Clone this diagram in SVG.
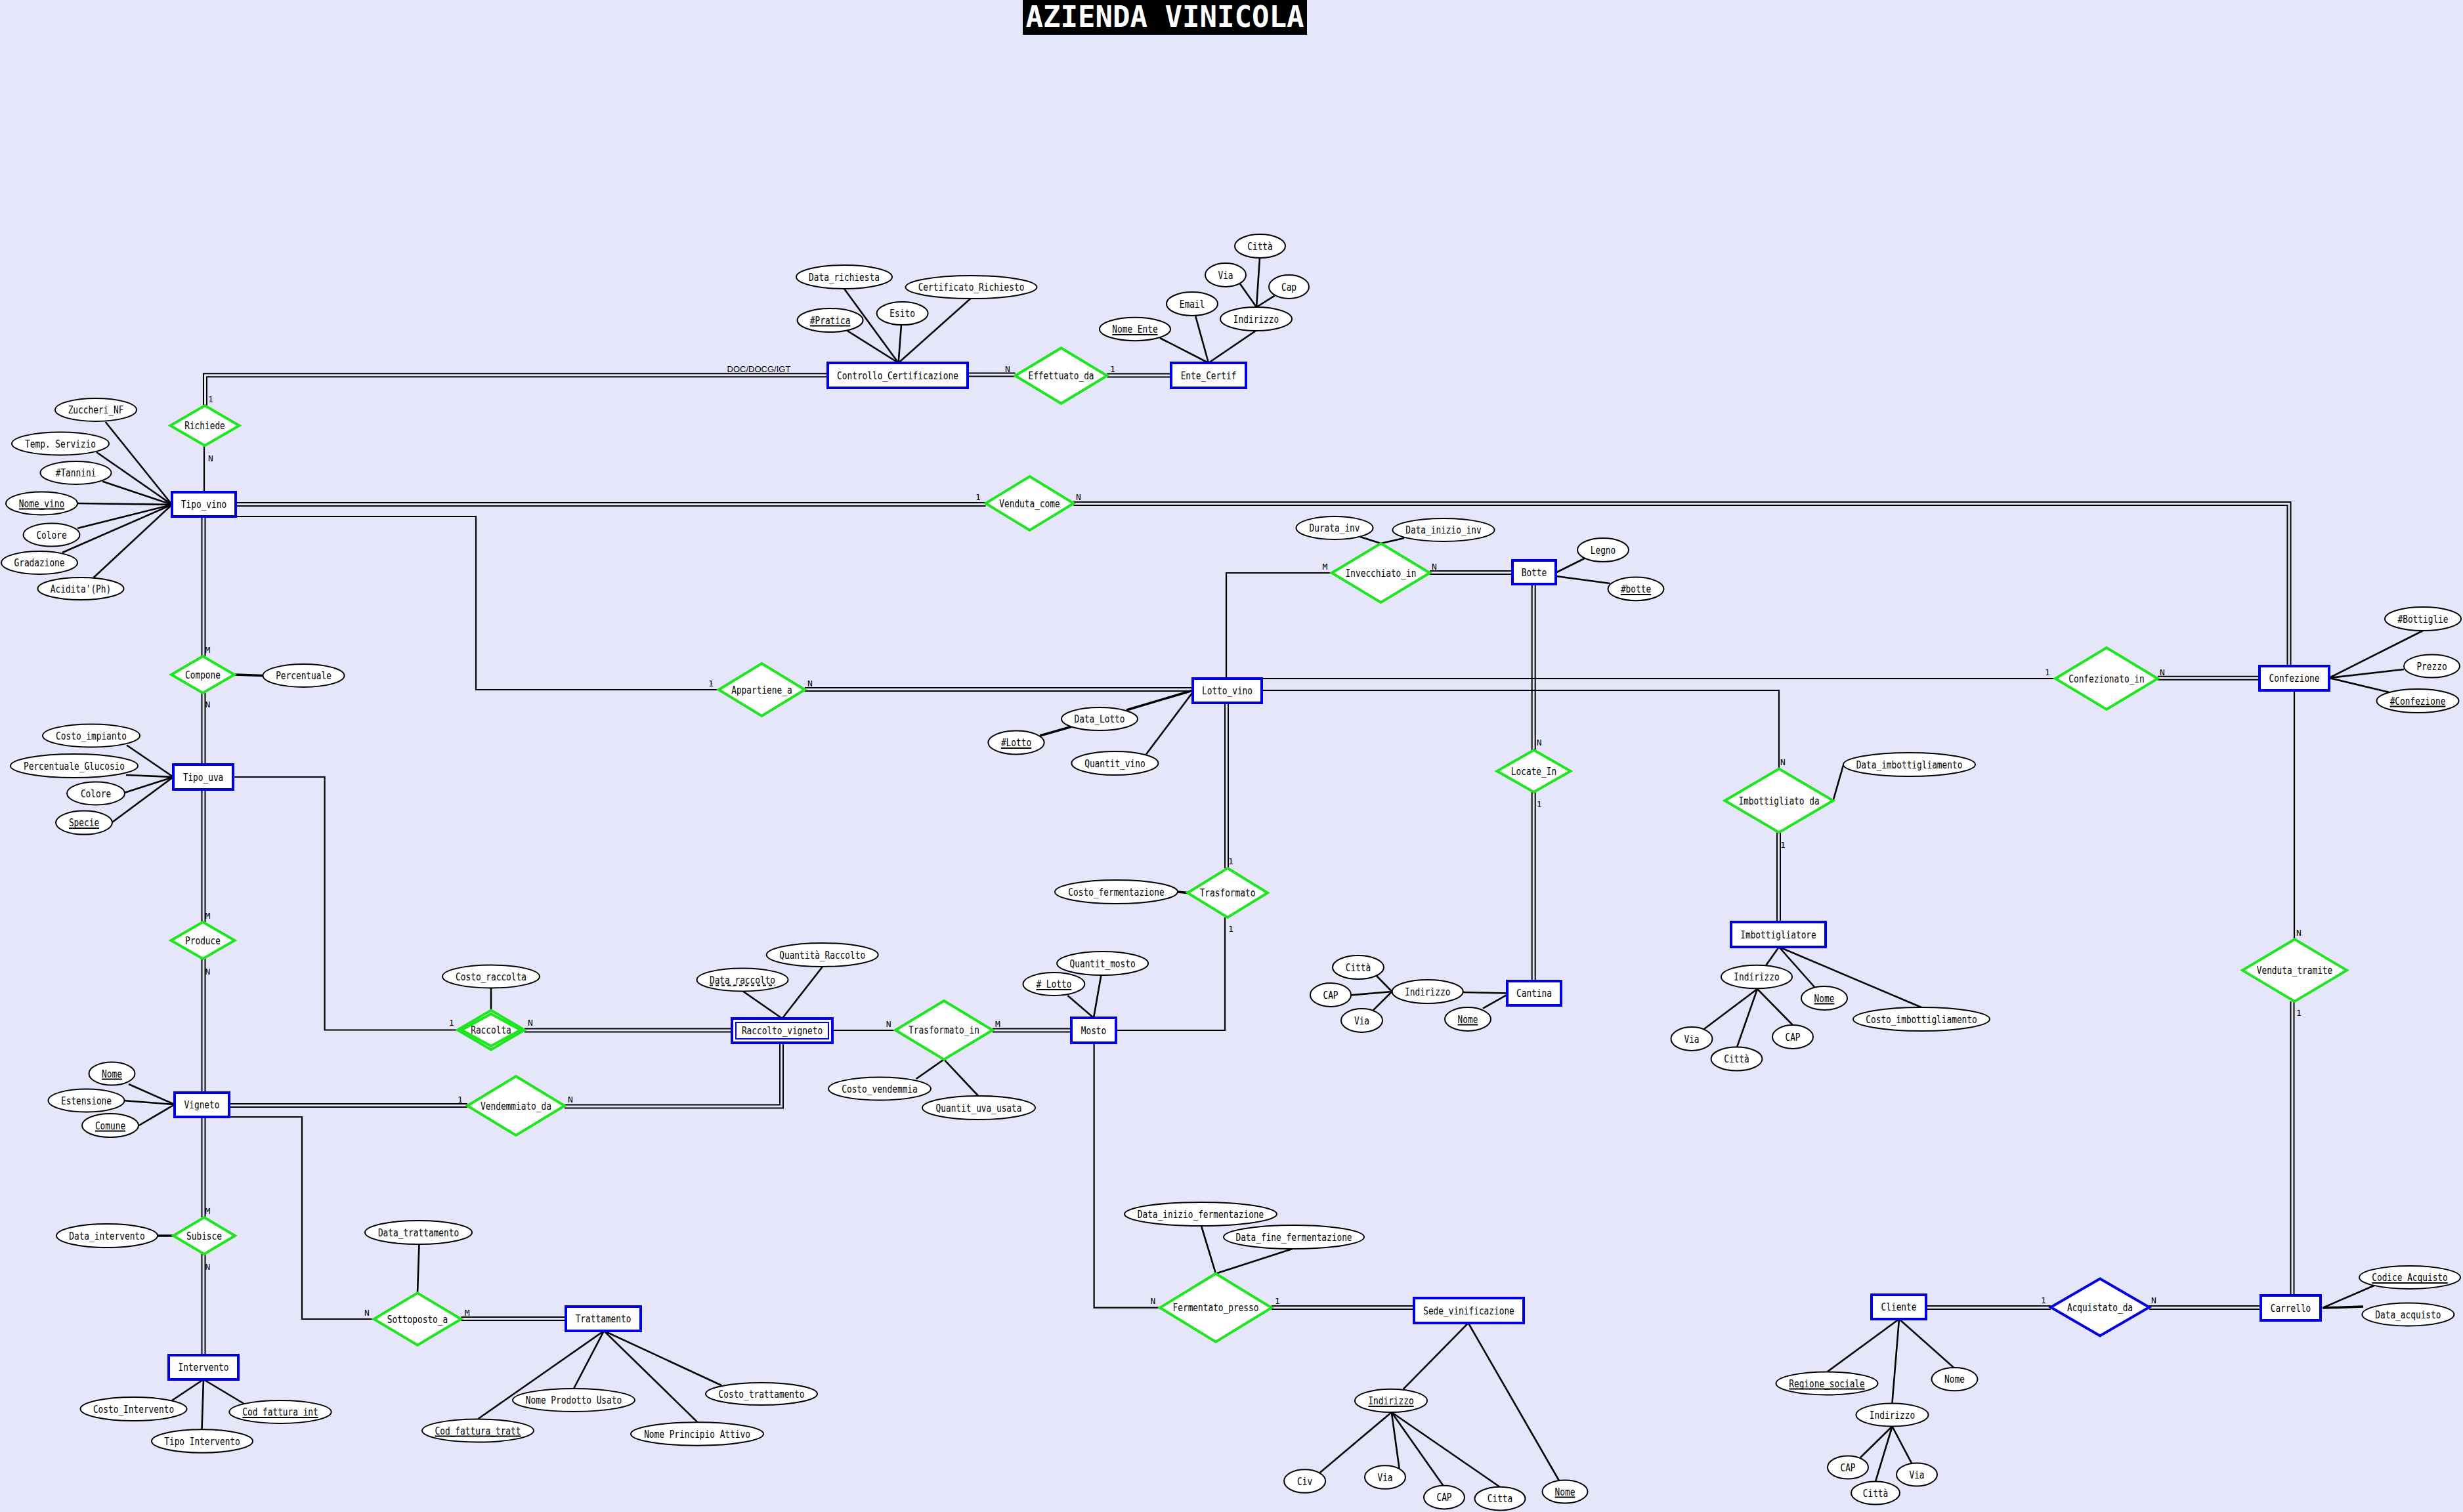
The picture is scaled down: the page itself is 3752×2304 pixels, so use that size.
<svg xmlns="http://www.w3.org/2000/svg" width="3752" height="2304" viewBox="0 0 3752 2304">
<style>
.bg{fill:#e6e6fa}
.ent{fill:#fff;stroke:#0000e0;stroke-width:4}
.ent2{fill:none;stroke:#0000e0;stroke-width:2}
.rel{fill:#fff;stroke:#1ee61e;stroke-width:4;stroke-linejoin:miter}
.relb{fill:#fff;stroke:#0000e0;stroke-width:4}
.att{fill:#fff;stroke:#000;stroke-width:2}
.ln{fill:none;stroke:#000;stroke-width:2.2}
.al{fill:none;stroke:#000;stroke-width:2.6}
.d{fill:none;stroke:#000;stroke-width:7}
.di{fill:none;stroke:#e6e6fa;stroke-width:3}
.u{stroke:#000;stroke-width:2}
.ud{stroke:#000;stroke-width:2;stroke-dasharray:5 4}
.t{font-family:"DejaVu Sans Mono","Liberation Mono",monospace;font-size:15.5px;text-anchor:middle;fill:#000}
.c{font-family:"DejaVu Sans Mono","Liberation Mono",monospace;font-size:13px;text-anchor:middle;fill:#000}
.s{font-family:"Liberation Sans",Arial,sans-serif;font-size:13px;text-anchor:middle;fill:#000}
.title{font-family:"DejaVu Sans Mono","Liberation Mono",monospace;font-weight:bold;font-size:44px;text-anchor:middle;fill:#fff}
</style>
<rect class="bg" x="0" y="0" width="3752" height="2304"/>
<g id="title"><rect x="1558" y="0" width="433" height="53" fill="#000"/><text class="title" x="1774.5" y="41">AZIENDA VINICOLA</text></g>

<g id="connectors">
<!-- double connectors -->
<path class="d" d="M312.5,618 V571.7 H1261"/><path class="di" d="M312.5,618 V571.7 H1261"/>
<path class="d" d="M359,768.5 H1501.5"/><path class="di" d="M359,768.5 H1501.5"/>
<path class="d" d="M1635.5,767.5 H3487 V1015"/><path class="di" d="M1635.5,767.5 H3487 V1015"/>
<path class="d" d="M310,787 V1000"/><path class="di" d="M310,787 V1000"/>
<path class="d" d="M310,1056 V1165"/><path class="di" d="M310,1056 V1165"/>
<path class="d" d="M310,1203 V1405"/><path class="di" d="M310,1203 V1405"/>
<path class="d" d="M310,1461 V1665"/><path class="di" d="M310,1461 V1665"/>
<path class="d" d="M310,1702 V1855"/><path class="di" d="M310,1702 V1855"/>
<path class="d" d="M310,1911 V2065"/><path class="di" d="M310,1911 V2065"/>
<path class="d" d="M349,1684.5 H712"/><path class="di" d="M349,1684.5 H712"/>
<path class="d" d="M1190.5,1589 V1686 H860"/><path class="di" d="M1190.5,1589 V1686 H860"/>
<path class="d" d="M799,1570 H1115"/><path class="di" d="M799,1570 H1115"/>
<path class="d" d="M1512,1570 H1632"/><path class="di" d="M1512,1570 H1632"/>
<path class="d" d="M702.5,2009.5 H862"/><path class="di" d="M702.5,2009.5 H862"/>
<path class="d" d="M1474,571 H1546.5"/><path class="di" d="M1474,571 H1546.5"/>
<path class="d" d="M1686.5,572 H1784"/><path class="di" d="M1686.5,572 H1784"/>
<path class="d" d="M2178,872.5 H2304"/><path class="di" d="M2178,872.5 H2304"/>
<path class="d" d="M2336.2,890 V1143"/><path class="di" d="M2336.2,890 V1143"/>
<path class="d" d="M2336.2,1207 V1495"/><path class="di" d="M2336.2,1207 V1495"/>
<path class="d" d="M1226,1050.5 H1817"/><path class="di" d="M1226,1050.5 H1817"/>
<path class="d" d="M1868.5,1071 V1323"/><path class="di" d="M1868.5,1071 V1323"/>
<path class="d" d="M2709.5,1268.4 V1405"/><path class="di" d="M2709.5,1268.4 V1405"/>
<path class="d" d="M3287,1033.3 H3442"/><path class="di" d="M3287,1033.3 H3442"/>
<path class="d" d="M3492,1526 V1974"/><path class="di" d="M3492,1526 V1974"/>
<path class="d" d="M1937,1992.4 H2154"/><path class="di" d="M1937,1992.4 H2154"/>
<path class="d" d="M2934,1992.5 H3124"/><path class="di" d="M2934,1992.5 H3124"/>
<path class="d" d="M3274,1992.5 H3444"/><path class="di" d="M3274,1992.5 H3444"/>
<!-- single connectors -->
<path class="ln" d="M311,679 V750"/>
<path class="ln" d="M359,787 H725 V1051 H1094.8"/>
<path class="ln" d="M355,1184 H494.6 V1569.5 H697"/>
<path class="ln" d="M349,1702 H460 V2010 H569.5"/>
<path class="ln" d="M1868,1034 V873 H2029"/>
<path class="ln" d="M1922,1034 H3131"/>
<path class="ln" d="M1922,1052 H2710 V1171.6"/>
<path class="ln" d="M1268,1570 H1364"/>
<path class="ln" d="M1866,1398 V1570 H1700"/>
<path class="ln" d="M1666.6,1589 V1992.7 H1767"/>
<path class="ln" d="M3495,1052 V1431.3"/>
<!-- attribute lines -->
<g class="al">
<line x1="160.7" y1="643" x2="262" y2="769"/>
<line x1="147" y1="689" x2="262" y2="769"/>
<line x1="156" y1="733.5" x2="262" y2="769"/>
<line x1="118" y1="767" x2="262" y2="769"/>
<line x1="118" y1="805" x2="262" y2="769"/>
<line x1="95" y1="842" x2="262" y2="769"/>
<line x1="142.7" y1="880" x2="262" y2="769"/>
<line x1="1286" y1="440" x2="1368.6" y2="553"/>
<line x1="1290.7" y1="504" x2="1368.6" y2="553"/>
<line x1="1373" y1="495" x2="1368.6" y2="553"/>
<line x1="1478.4" y1="455" x2="1368.6" y2="553"/>
<line x1="1767" y1="515" x2="1841" y2="553"/>
<line x1="1821" y1="481" x2="1841" y2="553"/>
<line x1="1913" y1="504" x2="1841" y2="553"/>
<line x1="1889" y1="432.6" x2="1914" y2="468"/>
<line x1="1919" y1="393" x2="1914" y2="468"/>
<line x1="1941.7" y1="450.7" x2="1914" y2="468"/>
<line x1="2413.6" y1="851" x2="2370.4" y2="872.5"/>
<line x1="2452.5" y1="889" x2="2370.4" y2="878"/>
<line x1="2072" y1="818" x2="2103.5" y2="828"/>
<line x1="2139" y1="820" x2="2103.5" y2="828"/>
<line x1="1716" y1="1082" x2="1817" y2="1052" stroke-width="3.5"/>
<line x1="1584.4" y1="1121" x2="1632.4" y2="1107.3" stroke-width="3.5"/>
<line x1="1746" y1="1149.4" x2="1817" y2="1054.7"/>
<line x1="3691" y1="961" x2="3548" y2="1033"/>
<line x1="3662" y1="1020" x2="3548" y2="1033"/>
<line x1="3639" y1="1054.7" x2="3548" y2="1033"/>
<line x1="357" y1="1028" x2="400.5" y2="1029.5" stroke-width="3.5"/>
<line x1="193" y1="1135.5" x2="264" y2="1184"/>
<line x1="192" y1="1181" x2="264" y2="1184"/>
<line x1="189.4" y1="1208" x2="264" y2="1184"/>
<line x1="171.5" y1="1252.5" x2="264" y2="1184"/>
<line x1="748" y1="1505.5" x2="748" y2="1540"/>
<line x1="1131.8" y1="1510.5" x2="1191.5" y2="1552"/>
<line x1="1253" y1="1473" x2="1191.5" y2="1552"/>
<line x1="1794" y1="1359" x2="1809" y2="1360.5" stroke-width="3.5"/>
<line x1="1626.4" y1="1517" x2="1666" y2="1551"/>
<line x1="1677.4" y1="1486" x2="1666" y2="1551"/>
<line x1="1438" y1="1614.4" x2="1395.6" y2="1644"/>
<line x1="1438" y1="1614.4" x2="1490.3" y2="1670"/>
<line x1="2229" y1="1512" x2="2296" y2="1513.5"/>
<line x1="2259" y1="1536.6" x2="2296" y2="1515.6"/>
<line x1="2097" y1="1487" x2="2120.4" y2="1511"/>
<line x1="2058" y1="1516.4" x2="2120.4" y2="1511"/>
<line x1="2091.6" y1="1539.6" x2="2120.4" y2="1511"/>
<line x1="2792.5" y1="1220" x2="2808" y2="1166"/>
<line x1="2690.5" y1="1470.6" x2="2710" y2="1443"/>
<line x1="2764" y1="1504" x2="2710" y2="1443"/>
<line x1="2927" y1="1535" x2="2710" y2="1443"/>
<line x1="2596" y1="1568" x2="2677" y2="1507"/>
<line x1="2646" y1="1595.6" x2="2677" y2="1507"/>
<line x1="2731" y1="1562" x2="2677" y2="1507"/>
<line x1="196" y1="1652" x2="266" y2="1683"/>
<line x1="187.5" y1="1677" x2="266" y2="1683"/>
<line x1="211.6" y1="1715" x2="266" y2="1683"/>
<line x1="240" y1="1883" x2="264" y2="1883" stroke-width="3.5"/>
<line x1="262" y1="2134" x2="310" y2="2102"/>
<line x1="307.5" y1="2178" x2="310" y2="2102"/>
<line x1="371.7" y1="2139" x2="310" y2="2102"/>
<line x1="638.5" y1="1896" x2="636" y2="1970.4"/>
<line x1="728.4" y1="2162" x2="920" y2="2028"/>
<line x1="874" y1="2116" x2="920" y2="2028"/>
<line x1="1063" y1="2167.6" x2="920" y2="2028"/>
<line x1="1099" y1="2111" x2="920" y2="2028"/>
<line x1="1830" y1="1868" x2="1852" y2="1940.7"/>
<line x1="1968.7" y1="1903" x2="1852" y2="1940.7"/>
<line x1="2137.8" y1="2116.7" x2="2236.7" y2="2016"/>
<line x1="2374.6" y1="2255.5" x2="2236.7" y2="2016"/>
<line x1="2010.7" y1="2244" x2="2119.8" y2="2152"/>
<line x1="2131.8" y1="2239" x2="2119.8" y2="2152"/>
<line x1="2199" y1="2264.5" x2="2119.8" y2="2152"/>
<line x1="2284.7" y1="2265.8" x2="2119.8" y2="2152"/>
<line x1="2784" y1="2090" x2="2893" y2="2010"/>
<line x1="2976.3" y1="2084" x2="2893" y2="2010"/>
<line x1="2882.4" y1="2138.5" x2="2893" y2="2010"/>
<line x1="2834" y1="2221" x2="2882.5" y2="2173.5"/>
<line x1="2857" y1="2257.6" x2="2882.5" y2="2173.5"/>
<line x1="2912" y1="2229.6" x2="2882.5" y2="2173.5"/>
<line x1="3616.5" y1="1959" x2="3538" y2="1993"/>
<line x1="3600" y1="1991" x2="3538" y2="1993" stroke-width="3.5"/>
</g>
<!-- cardinalities -->
<text class="c" x="321" y="613">1</text><text class="c" x="321" y="703">N</text>
<text class="c" x="1535" y="567">N</text><text class="c" x="1695" y="567">1</text>
<text class="c" x="1490" y="762">1</text><text class="c" x="1643" y="762">N</text>
<text class="c" x="316.5" y="995">M</text><text class="c" x="316.5" y="1078">N</text>
<text class="c" x="1083" y="1046">1</text><text class="c" x="1234" y="1046">N</text>
<text class="c" x="2018.5" y="868">M</text><text class="c" x="2185" y="868">N</text>
<text class="c" x="3119" y="1029">1</text><text class="c" x="3294" y="1029">N</text>
<text class="c" x="2344.6" y="1136">N</text><text class="c" x="2344.6" y="1230">1</text>
<text class="c" x="2716" y="1166">N</text><text class="c" x="2716" y="1292">1</text>
<text class="c" x="1875" y="1317">1</text><text class="c" x="1875" y="1420">1</text>
<text class="c" x="316.5" y="1400">M</text><text class="c" x="316.5" y="1485">N</text>
<text class="c" x="687.6" y="1563">1</text><text class="c" x="808" y="1563">N</text>
<text class="c" x="1353.7" y="1565">N</text><text class="c" x="1520" y="1565">M</text>
<text class="c" x="3502" y="1426">N</text><text class="c" x="3502" y="1548">1</text>
<text class="c" x="701" y="1680">1</text><text class="c" x="869" y="1680">N</text>
<text class="c" x="316.5" y="1850">M</text><text class="c" x="316.5" y="1935">N</text>
<text class="c" x="559" y="2005">N</text><text class="c" x="711.6" y="2005">M</text>
<text class="c" x="1756.5" y="1987">N</text><text class="c" x="1946" y="1987">1</text>
<text class="c" x="3113" y="1986">1</text><text class="c" x="3281" y="1986">N</text>
<text class="s" x="1156" y="567">DOC/DOCG/IGT</text>
</g>

<!-- entities -->
<g id="e-tipo-vino"><rect class="ent" x="262" y="750" width="97" height="37"/><text class="t" x="310.5" y="774" textLength="69.3" lengthAdjust="spacingAndGlyphs">Tipo_vino</text></g>
<g id="e-controllo"><rect class="ent" x="1261" y="553" width="213" height="38"/><text class="t" x="1367.5" y="577.5" textLength="184.8" lengthAdjust="spacingAndGlyphs">Controllo_Certificazione</text></g>
<g id="e-ente"><rect class="ent" x="1784" y="553" width="114" height="38"/><text class="t" x="1841" y="577.5" textLength="84.7" lengthAdjust="spacingAndGlyphs">Ente_Certif</text></g>
<g id="e-botte"><rect class="ent" x="2304" y="854" width="66" height="36"/><text class="t" x="2337" y="877.5" textLength="38.5" lengthAdjust="spacingAndGlyphs">Botte</text></g>
<g id="e-lotto"><rect class="ent" x="1817" y="1034" width="105" height="37"/><text class="t" x="1869.5" y="1058" textLength="77" lengthAdjust="spacingAndGlyphs">Lotto_vino</text></g>
<g id="e-confezione"><rect class="ent" x="3442" y="1015" width="106" height="37"/><text class="t" x="3495" y="1039" textLength="77" lengthAdjust="spacingAndGlyphs">Confezione</text></g>
<g id="e-tipo-uva"><rect class="ent" x="264" y="1165" width="91" height="38"/><text class="t" x="309.5" y="1189.5" textLength="61.6" lengthAdjust="spacingAndGlyphs">Tipo_uva</text></g>
<g id="e-raccolto"><rect class="ent" x="1115" y="1552" width="153" height="37"/><rect class="ent2" x="1121" y="1558" width="141" height="25"/><text class="t" x="1191.5" y="1576" textLength="123.2" lengthAdjust="spacingAndGlyphs">Raccolto_vigneto</text></g>
<g id="e-mosto"><rect class="ent" x="1632" y="1551" width="68" height="38"/><text class="t" x="1666" y="1575.5" textLength="38.5" lengthAdjust="spacingAndGlyphs">Mosto</text></g>
<g id="e-cantina"><rect class="ent" x="2296" y="1495" width="82" height="37"/><text class="t" x="2337" y="1519" textLength="53.9" lengthAdjust="spacingAndGlyphs">Cantina</text></g>
<g id="e-imbottigliatore"><rect class="ent" x="2637" y="1405" width="144" height="38"/><text class="t" x="2709" y="1429.5" textLength="115.5" lengthAdjust="spacingAndGlyphs">Imbottigliatore</text></g>
<g id="e-vigneto"><rect class="ent" x="266" y="1665" width="83" height="37"/><text class="t" x="307.5" y="1689" textLength="53.9" lengthAdjust="spacingAndGlyphs">Vigneto</text></g>
<g id="e-intervento"><rect class="ent" x="257" y="2065" width="106" height="37"/><text class="t" x="310" y="2089" textLength="77" lengthAdjust="spacingAndGlyphs">Intervento</text></g>
<g id="e-trattamento"><rect class="ent" x="862" y="1991" width="114" height="37"/><text class="t" x="919" y="2015" textLength="84.7" lengthAdjust="spacingAndGlyphs">Trattamento</text></g>
<g id="e-sede"><rect class="ent" x="2154" y="1978" width="167" height="38"/><text class="t" x="2237.5" y="2002.5" textLength="138.6" lengthAdjust="spacingAndGlyphs">Sede_vinificazione</text></g>
<g id="e-cliente"><rect class="ent" x="2851" y="1973" width="83" height="37"/><text class="t" x="2892.5" y="1997" textLength="53.9" lengthAdjust="spacingAndGlyphs">Cliente</text></g>
<g id="e-carrello"><rect class="ent" x="3444" y="1974" width="91" height="38"/><text class="t" x="3489.5" y="1998.5" textLength="61.6" lengthAdjust="spacingAndGlyphs">Carrello</text></g>

<!-- relationships -->
<g id="r-richiede"><polygon class="rel" points="312,618 364.5,648.5 312,679 259.5,648.5"/><text class="t" x="312" y="654" textLength="61.6" lengthAdjust="spacingAndGlyphs">Richiede</text></g>
<g id="r-effettuato"><polygon class="rel" points="1616.5,530.2 1686.5,572.5 1616.5,614.8 1546.5,572.5"/><text class="t" x="1616.5" y="578" textLength="100.1" lengthAdjust="spacingAndGlyphs">Effettuato_da</text></g>
<g id="r-venduta-come"><polygon class="rel" points="1568.5,726 1635.5,767 1568.5,808 1501.5,767"/><text class="t" x="1568.5" y="772.5" textLength="92.4" lengthAdjust="spacingAndGlyphs">Venduta_come</text></g>
<g id="r-invecchiato"><polygon class="rel" points="2103.5,828 2178.1,873 2103.5,918 2028.9,873"/><text class="t" x="2103.5" y="878.5" textLength="107.8" lengthAdjust="spacingAndGlyphs">Invecchiato_in</text></g>
<g id="r-compone"><polygon class="rel" points="309,1000 357,1028 309,1056 261,1028"/><text class="t" x="309" y="1033.5" textLength="53.9" lengthAdjust="spacingAndGlyphs">Compone</text></g>
<g id="r-appartiene"><polygon class="rel" points="1160.4,1011 1226,1051 1160.4,1091 1094.8,1051"/><text class="t" x="1160.4" y="1056.5" textLength="92.4" lengthAdjust="spacingAndGlyphs">Appartiene_a</text></g>
<g id="r-confezionato"><polygon class="rel" points="3209,987 3287,1034 3209,1081 3131,1034"/><text class="t" x="3209" y="1039.5" textLength="115.5" lengthAdjust="spacingAndGlyphs">Confezionato_in</text></g>
<g id="r-locate"><polygon class="rel" points="2336.5,1143 2392.5,1175 2336.5,1207 2280.5,1175"/><text class="t" x="2336.5" y="1180.5" textLength="69.3" lengthAdjust="spacingAndGlyphs">Locate_In</text></g>
<g id="r-imbottigliato"><polygon class="rel" points="2710,1171.6 2792.5,1220 2710,1268.4 2627.5,1220"/><text class="t" x="2710" y="1225.5" textLength="123.2" lengthAdjust="spacingAndGlyphs">Imbottigliato da</text></g>
<g id="r-trasformato"><polygon class="rel" points="1870,1323 1931,1360.5 1870,1398 1809,1360.5"/><text class="t" x="1870" y="1366" textLength="84.7" lengthAdjust="spacingAndGlyphs">Trasformato</text></g>
<g id="r-produce"><polygon class="rel" points="309,1405 357.5,1433 309,1461 260.5,1433"/><text class="t" x="309" y="1438.5" textLength="53.9" lengthAdjust="spacingAndGlyphs">Produce</text></g>
<g id="r-raccolta"><polygon class="rel" points="748,1539.5 799,1569.5 748,1599.5 697,1569.5"/><polygon class="rel" points="748,1545 793,1569.5 748,1594 703,1569.5"/><text class="t" x="748" y="1575" textLength="61.6" lengthAdjust="spacingAndGlyphs">Raccolta</text></g>
<g id="r-trasformato-in"><polygon class="rel" points="1438,1525 1512,1569.7 1438,1614.4 1364,1569.7"/><text class="t" x="1438" y="1575" textLength="107.8" lengthAdjust="spacingAndGlyphs">Trasformato_in</text></g>
<g id="r-venduta-tramite"><polygon class="rel" points="3495.5,1431.3 3575,1478.6 3495.5,1525.9 3416,1478.6"/><text class="t" x="3495.5" y="1484" textLength="115.5" lengthAdjust="spacingAndGlyphs">Venduta_tramite</text></g>
<g id="r-vendemmiato"><polygon class="rel" points="786,1640 860,1685 786,1730 712,1685"/><text class="t" x="786" y="1690.5" textLength="107.8" lengthAdjust="spacingAndGlyphs">Vendemmiato_da</text></g>
<g id="r-subisce"><polygon class="rel" points="311,1855 358,1883 311,1911 264,1883"/><text class="t" x="311" y="1888.5" textLength="53.9" lengthAdjust="spacingAndGlyphs">Subisce</text></g>
<g id="r-sottoposto"><polygon class="rel" points="636,1970.4 702.5,2010 636,2049.6 569.5,2010"/><text class="t" x="636" y="2015.5" textLength="92.4" lengthAdjust="spacingAndGlyphs">Sottoposto_a</text></g>
<g id="r-fermentato"><polygon class="rel" points="1852,1940.7 1937,1992.7 1852,2044.7 1767,1992.7"/><text class="t" x="1852" y="1998" textLength="130.9" lengthAdjust="spacingAndGlyphs">Fermentato_presso</text></g>
<g id="r-acquistato"><polygon class="relb" points="3199,1948.5 3274,1992 3199,2035.5 3124,1992"/><text class="t" x="3199" y="1997.5" textLength="100.1" lengthAdjust="spacingAndGlyphs">Acquistato_da</text></g>

<!-- attributes -->
<g id="a-zuccheri"><ellipse class="att" cx="146" cy="624.5" rx="62" ry="17.5"/><text class="t" x="146" y="630" textLength="84.7" lengthAdjust="spacingAndGlyphs">Zuccheri_NF</text></g>
<g id="a-temp"><ellipse class="att" cx="92" cy="676" rx="74" ry="17.5"/><text class="t" x="92" y="681.5" textLength="107.8" lengthAdjust="spacingAndGlyphs">Temp. Servizio</text></g>
<g id="a-tannini"><ellipse class="att" cx="115.5" cy="720.5" rx="54" ry="17.5"/><text class="t" x="115.5" y="726" textLength="61.6" lengthAdjust="spacingAndGlyphs">#Tannini</text></g>
<g id="a-nome-vino"><ellipse class="att" cx="63.5" cy="767" rx="54.5" ry="17.5"/><text class="t" x="63.5" y="772.5" textLength="69.3" lengthAdjust="spacingAndGlyphs">Nome_vino</text><line class="u" x1="28.8" y1="775.5" x2="98.2" y2="775.5"/></g>
<g id="a-colore-vino"><ellipse class="att" cx="78.5" cy="815" rx="43" ry="17.5"/><text class="t" x="78.5" y="820.5" textLength="46.2" lengthAdjust="spacingAndGlyphs">Colore</text></g>
<g id="a-gradazione"><ellipse class="att" cx="60" cy="857.5" rx="58" ry="17.5"/><text class="t" x="60" y="863" textLength="77" lengthAdjust="spacingAndGlyphs">Gradazione</text></g>
<g id="a-acidita"><ellipse class="att" cx="123" cy="897" rx="65.5" ry="17"/><text class="t" x="123" y="902.5" textLength="92.4" lengthAdjust="spacingAndGlyphs">Acidita'(Ph)</text></g>

<g id="a-data-richiesta"><ellipse class="att" cx="1286" cy="422" rx="73" ry="18"/><text class="t" x="1286" y="427.5" textLength="107.8" lengthAdjust="spacingAndGlyphs">Data_richiesta</text></g>
<g id="a-pratica"><ellipse class="att" cx="1264.6" cy="488" rx="50" ry="18"/><text class="t" x="1264.6" y="493.5" textLength="61.6" lengthAdjust="spacingAndGlyphs">#Pratica</text><line class="u" x1="1233.8" y1="496.5" x2="1295.4" y2="496.5"/></g>
<g id="a-esito"><ellipse class="att" cx="1374.6" cy="477.6" rx="39" ry="17.5"/><text class="t" x="1374.6" y="483" textLength="38.5" lengthAdjust="spacingAndGlyphs">Esito</text></g>
<g id="a-certificato"><ellipse class="att" cx="1479.5" cy="437.6" rx="100" ry="17.5"/><text class="t" x="1479.5" y="443" textLength="161.7" lengthAdjust="spacingAndGlyphs">Certificato_Richiesto</text></g>

<g id="a-nome-ente"><ellipse class="att" cx="1729" cy="501.5" rx="54" ry="17.7"/><text class="t" x="1729" y="507" textLength="69.3" lengthAdjust="spacingAndGlyphs">Nome_Ente</text><line class="u" x1="1694.4" y1="510" x2="1763.6" y2="510"/></g>
<g id="a-email"><ellipse class="att" cx="1816" cy="463" rx="39" ry="18"/><text class="t" x="1816" y="468.5" textLength="38.5" lengthAdjust="spacingAndGlyphs">Email</text></g>
<g id="a-ente-indirizzo"><ellipse class="att" cx="1913.5" cy="486" rx="54.5" ry="18"/><text class="t" x="1913.5" y="491.5" textLength="69.3" lengthAdjust="spacingAndGlyphs">Indirizzo</text></g>
<g id="a-ente-via"><ellipse class="att" cx="1867" cy="419" rx="31" ry="18"/><text class="t" x="1867" y="424.5" textLength="23.1" lengthAdjust="spacingAndGlyphs">Via</text></g>
<g id="a-ente-citta"><ellipse class="att" cx="1919.5" cy="375" rx="38.5" ry="18"/><text class="t" x="1919.5" y="380.5" textLength="38.5" lengthAdjust="spacingAndGlyphs">Città</text></g>
<g id="a-ente-cap"><ellipse class="att" cx="1963.5" cy="437" rx="30.5" ry="18"/><text class="t" x="1963.5" y="442.5" textLength="23.1" lengthAdjust="spacingAndGlyphs">Cap</text></g>

<g id="a-legno"><ellipse class="att" cx="2442" cy="838" rx="39" ry="18"/><text class="t" x="2442" y="843.5" textLength="38.5" lengthAdjust="spacingAndGlyphs">Legno</text></g>
<g id="a-botte-id"><ellipse class="att" cx="2492" cy="897.4" rx="42.5" ry="17.8"/><text class="t" x="2492" y="903" textLength="46.2" lengthAdjust="spacingAndGlyphs">#botte</text><line class="u" x1="2468.9" y1="906" x2="2515.1" y2="906"/></g>
<g id="a-durata-inv"><ellipse class="att" cx="2033" cy="804.5" rx="58.5" ry="17.5"/><text class="t" x="2033" y="810" textLength="77" lengthAdjust="spacingAndGlyphs">Durata_inv</text></g>
<g id="a-data-inizio-inv"><ellipse class="att" cx="2199" cy="807.5" rx="77.6" ry="17.5"/><text class="t" x="2199" y="813" textLength="115.5" lengthAdjust="spacingAndGlyphs">Data_inizio_inv</text></g>

<g id="a-data-lotto"><ellipse class="att" cx="1675" cy="1095.6" rx="58" ry="17.5"/><text class="t" x="1675" y="1101" textLength="77" lengthAdjust="spacingAndGlyphs">Data_Lotto</text></g>
<g id="a-lotto-id"><ellipse class="att" cx="1548" cy="1131.5" rx="42.7" ry="17.9"/><text class="t" x="1548" y="1137" textLength="46.2" lengthAdjust="spacingAndGlyphs">#Lotto</text><line class="u" x1="1524.9" y1="1140" x2="1571.1" y2="1140"/></g>
<g id="a-quantit-vino"><ellipse class="att" cx="1698.4" cy="1163" rx="66" ry="18"/><text class="t" x="1698.4" y="1168.5" textLength="92.4" lengthAdjust="spacingAndGlyphs">Quantit_vino</text></g>

<g id="a-bottiglie"><ellipse class="att" cx="3691" cy="943" rx="58" ry="18"/><text class="t" x="3691" y="948.5" textLength="77" lengthAdjust="spacingAndGlyphs">#Bottiglie</text></g>
<g id="a-prezzo"><ellipse class="att" cx="3704.5" cy="1015" rx="42.5" ry="17.5"/><text class="t" x="3704.5" y="1020.5" textLength="46.2" lengthAdjust="spacingAndGlyphs">Prezzo</text></g>
<g id="a-confezione-id"><ellipse class="att" cx="3683" cy="1068" rx="62.5" ry="18"/><text class="t" x="3683" y="1073.5" textLength="84.7" lengthAdjust="spacingAndGlyphs">#Confezione</text><line class="u" x1="3640.6" y1="1076.5" x2="3725.4" y2="1076.5"/></g>

<g id="a-percentuale"><ellipse class="att" cx="462.5" cy="1029.5" rx="62" ry="17.5"/><text class="t" x="462.5" y="1035" textLength="84.7" lengthAdjust="spacingAndGlyphs">Percentuale</text></g>
<g id="a-costo-impianto"><ellipse class="att" cx="139" cy="1121" rx="74" ry="17.5"/><text class="t" x="139" y="1126.5" textLength="107.8" lengthAdjust="spacingAndGlyphs">Costo_impianto</text></g>
<g id="a-glucosio"><ellipse class="att" cx="113" cy="1167" rx="97" ry="18"/><text class="t" x="113" y="1172.5" textLength="154" lengthAdjust="spacingAndGlyphs">Percentuale_Glucosio</text></g>
<g id="a-colore-uva"><ellipse class="att" cx="146" cy="1209" rx="44" ry="17.5"/><text class="t" x="146" y="1214.5" textLength="46.2" lengthAdjust="spacingAndGlyphs">Colore</text></g>
<g id="a-specie"><ellipse class="att" cx="128" cy="1253.6" rx="43" ry="18"/><text class="t" x="128" y="1259" textLength="46.2" lengthAdjust="spacingAndGlyphs">Specie</text><line class="u" x1="104.9" y1="1262" x2="151.1" y2="1262"/></g>

<g id="a-costo-raccolta"><ellipse class="att" cx="748" cy="1488" rx="74" ry="17.5"/><text class="t" x="748" y="1493.5" textLength="107.8" lengthAdjust="spacingAndGlyphs">Costo_raccolta</text></g>
<g id="a-data-raccolto"><ellipse class="att" cx="1131" cy="1493" rx="69.5" ry="17.5"/><text class="t" x="1131" y="1498.5" textLength="100.1" lengthAdjust="spacingAndGlyphs">Data_raccolto</text><line class="ud" x1="1081" y1="1501.5" x2="1181" y2="1501.5"/></g>
<g id="a-quantita-raccolto"><ellipse class="att" cx="1252.7" cy="1455" rx="85" ry="18"/><text class="t" x="1252.7" y="1460.5" textLength="130.9" lengthAdjust="spacingAndGlyphs">Quantità_Raccolto</text></g>
<g id="a-costo-fermentazione"><ellipse class="att" cx="1700.5" cy="1359" rx="93.5" ry="18"/><text class="t" x="1700.5" y="1364.5" textLength="146.3" lengthAdjust="spacingAndGlyphs">Costo_fermentazione</text></g>
<g id="a-mosto-lotto"><ellipse class="att" cx="1605.4" cy="1499.5" rx="47" ry="17.5"/><text class="t" x="1605.4" y="1505" textLength="53.9" lengthAdjust="spacingAndGlyphs"># Lotto</text><line class="u" x1="1578.5" y1="1508" x2="1632.3" y2="1508"/></g>
<g id="a-quantit-mosto"><ellipse class="att" cx="1679.6" cy="1468" rx="69.5" ry="18"/><text class="t" x="1679.6" y="1473.5" textLength="100.1" lengthAdjust="spacingAndGlyphs">Quantit_mosto</text></g>
<g id="a-costo-vendemmia"><ellipse class="att" cx="1340" cy="1659" rx="78" ry="17.5"/><text class="t" x="1340" y="1664.5" textLength="115.5" lengthAdjust="spacingAndGlyphs">Costo_vendemmia</text></g>
<g id="a-quantit-uva"><ellipse class="att" cx="1491" cy="1688" rx="86" ry="18"/><text class="t" x="1491" y="1693.5" textLength="130.9" lengthAdjust="spacingAndGlyphs">Quantit_uva_usata</text></g>

<g id="a-cantina-indirizzo"><ellipse class="att" cx="2174.7" cy="1511" rx="54" ry="18"/><text class="t" x="2174.7" y="1516.5" textLength="69.3" lengthAdjust="spacingAndGlyphs">Indirizzo</text></g>
<g id="a-cantina-nome"><ellipse class="att" cx="2236" cy="1553" rx="35" ry="18"/><text class="t" x="2236" y="1558.5" textLength="30.8" lengthAdjust="spacingAndGlyphs">Nome</text><line class="u" x1="2220.6" y1="1561.5" x2="2251.4" y2="1561.5"/></g>
<g id="a-cantina-citta"><ellipse class="att" cx="2069" cy="1474" rx="39" ry="18"/><text class="t" x="2069" y="1479.5" textLength="38.5" lengthAdjust="spacingAndGlyphs">Città</text></g>
<g id="a-cantina-cap"><ellipse class="att" cx="2027" cy="1516" rx="31" ry="18"/><text class="t" x="2027" y="1521.5" textLength="23.1" lengthAdjust="spacingAndGlyphs">CAP</text></g>
<g id="a-cantina-via"><ellipse class="att" cx="2074.5" cy="1555" rx="31.5" ry="18"/><text class="t" x="2074.5" y="1560.5" textLength="23.1" lengthAdjust="spacingAndGlyphs">Via</text></g>

<g id="a-data-imbott"><ellipse class="att" cx="2908.5" cy="1165" rx="100.5" ry="18"/><text class="t" x="2908.5" y="1170.5" textLength="161.7" lengthAdjust="spacingAndGlyphs">Data_imbottigliamento</text></g>
<g id="a-imb-indirizzo"><ellipse class="att" cx="2676" cy="1488.5" rx="54" ry="17.8"/><text class="t" x="2676" y="1494" textLength="69.3" lengthAdjust="spacingAndGlyphs">Indirizzo</text></g>
<g id="a-imb-nome"><ellipse class="att" cx="2779" cy="1521" rx="35" ry="18"/><text class="t" x="2779" y="1526.5" textLength="30.8" lengthAdjust="spacingAndGlyphs">Nome</text><line class="u" x1="2763.6" y1="1529.5" x2="2794.4" y2="1529.5"/></g>
<g id="a-costo-imbott"><ellipse class="att" cx="2927" cy="1553" rx="104" ry="18"/><text class="t" x="2927" y="1558.5" textLength="169.4" lengthAdjust="spacingAndGlyphs">Costo_imbottigliamento</text></g>
<g id="a-imb-via"><ellipse class="att" cx="2577" cy="1583" rx="31.5" ry="18"/><text class="t" x="2577" y="1588.5" textLength="23.1" lengthAdjust="spacingAndGlyphs">Via</text></g>
<g id="a-imb-citta"><ellipse class="att" cx="2645.5" cy="1613.5" rx="39" ry="18"/><text class="t" x="2645.5" y="1619" textLength="38.5" lengthAdjust="spacingAndGlyphs">Città</text></g>
<g id="a-imb-cap"><ellipse class="att" cx="2731" cy="1580" rx="31" ry="18"/><text class="t" x="2731" y="1585.5" textLength="23.1" lengthAdjust="spacingAndGlyphs">CAP</text></g>

<g id="a-vigneto-nome"><ellipse class="att" cx="170.5" cy="1636" rx="35" ry="17.5"/><text class="t" x="170.5" y="1641.5" textLength="30.8" lengthAdjust="spacingAndGlyphs">Nome</text><line class="u" x1="155.1" y1="1644.5" x2="185.9" y2="1644.5"/></g>
<g id="a-estensione"><ellipse class="att" cx="131.5" cy="1677" rx="58" ry="17.5"/><text class="t" x="131.5" y="1682.5" textLength="77" lengthAdjust="spacingAndGlyphs">Estensione</text></g>
<g id="a-comune"><ellipse class="att" cx="168" cy="1715" rx="43" ry="18"/><text class="t" x="168" y="1720.5" textLength="46.2" lengthAdjust="spacingAndGlyphs">Comune</text><line class="u" x1="144.9" y1="1723.5" x2="191.1" y2="1723.5"/></g>
<g id="a-data-intervento"><ellipse class="att" cx="163" cy="1883" rx="77" ry="18"/><text class="t" x="163" y="1888.5" textLength="115.5" lengthAdjust="spacingAndGlyphs">Data_intervento</text></g>
<g id="a-costo-intervento"><ellipse class="att" cx="203.5" cy="2147" rx="81" ry="18"/><text class="t" x="203.5" y="2152.5" textLength="123.2" lengthAdjust="spacingAndGlyphs">Costo_Intervento</text></g>
<g id="a-tipo-intervento"><ellipse class="att" cx="308" cy="2196" rx="77" ry="17.7"/><text class="t" x="308" y="2201.5" textLength="115.5" lengthAdjust="spacingAndGlyphs">Tipo Intervento</text></g>
<g id="a-cod-fattura-int"><ellipse class="att" cx="427" cy="2151.5" rx="77.7" ry="17.5"/><text class="t" x="427" y="2157" textLength="115.5" lengthAdjust="spacingAndGlyphs">Cod_fattura_int</text><line class="u" x1="369.3" y1="2160" x2="484.7" y2="2160"/></g>
<g id="a-data-trattamento"><ellipse class="att" cx="637.5" cy="1878" rx="81.5" ry="18"/><text class="t" x="637.5" y="1883.5" textLength="123.2" lengthAdjust="spacingAndGlyphs">Data_trattamento</text></g>
<g id="a-cod-fattura-tratt"><ellipse class="att" cx="728" cy="2180" rx="85" ry="17.5"/><text class="t" x="728" y="2185.5" textLength="130.9" lengthAdjust="spacingAndGlyphs">Cod_fattura_tratt</text><line class="u" x1="662.6" y1="2188.5" x2="793.4" y2="2188.5"/></g>
<g id="a-prodotto"><ellipse class="att" cx="874" cy="2133.5" rx="93" ry="17.5"/><text class="t" x="874" y="2139" textLength="146.3" lengthAdjust="spacingAndGlyphs">Nome Prodotto Usato</text></g>
<g id="a-principio"><ellipse class="att" cx="1062" cy="2185" rx="101" ry="17.7"/><text class="t" x="1062" y="2190.5" textLength="161.7" lengthAdjust="spacingAndGlyphs">Nome Principio Attivo</text></g>
<g id="a-costo-trattamento"><ellipse class="att" cx="1160" cy="2124" rx="85" ry="17"/><text class="t" x="1160" y="2129.5" textLength="130.9" lengthAdjust="spacingAndGlyphs">Costo_trattamento</text></g>

<g id="a-data-inizio-ferm"><ellipse class="att" cx="1829" cy="1850" rx="116" ry="18"/><text class="t" x="1829" y="1855.5" textLength="192.5" lengthAdjust="spacingAndGlyphs">Data_inizio_fermentazione</text></g>
<g id="a-data-fine-ferm"><ellipse class="att" cx="1971" cy="1885" rx="107" ry="18"/><text class="t" x="1971" y="1890.5" textLength="177.1" lengthAdjust="spacingAndGlyphs">Data_fine_fermentazione</text></g>
<g id="a-sede-indirizzo"><ellipse class="att" cx="2119" cy="2134.4" rx="55" ry="17.7"/><text class="t" x="2119" y="2140" textLength="69.3" lengthAdjust="spacingAndGlyphs">Indirizzo</text><line class="u" x1="2084.4" y1="2143" x2="2153.6" y2="2143"/></g>
<g id="a-sede-nome"><ellipse class="att" cx="2384" cy="2273" rx="34.5" ry="17.5"/><text class="t" x="2384" y="2278.5" textLength="30.8" lengthAdjust="spacingAndGlyphs">Nome</text><line class="u" x1="2368.6" y1="2281.5" x2="2399.4" y2="2281.5"/></g>
<g id="a-sede-civ"><ellipse class="att" cx="1987.6" cy="2257" rx="31.5" ry="17.8"/><text class="t" x="1987.6" y="2262.5" textLength="23.1" lengthAdjust="spacingAndGlyphs">Civ</text></g>
<g id="a-sede-via"><ellipse class="att" cx="2110" cy="2251" rx="31" ry="17.8"/><text class="t" x="2110" y="2256.5" textLength="23.1" lengthAdjust="spacingAndGlyphs">Via</text></g>
<g id="a-sede-cap"><ellipse class="att" cx="2200" cy="2281.6" rx="31" ry="17.8"/><text class="t" x="2200" y="2287" textLength="23.1" lengthAdjust="spacingAndGlyphs">CAP</text></g>
<g id="a-sede-citta"><ellipse class="att" cx="2285" cy="2283.6" rx="38.5" ry="17.8"/><text class="t" x="2285" y="2289" textLength="38.5" lengthAdjust="spacingAndGlyphs">Citta</text></g>

<g id="a-regione"><ellipse class="att" cx="2783" cy="2108" rx="77.5" ry="17.5"/><text class="t" x="2783" y="2113.5" textLength="115.5" lengthAdjust="spacingAndGlyphs">Regione_sociale</text><line class="u" x1="2725.3" y1="2116.5" x2="2840.7" y2="2116.5"/></g>
<g id="a-cliente-nome"><ellipse class="att" cx="2977.5" cy="2101.6" rx="35" ry="17.7"/><text class="t" x="2977.5" y="2107" textLength="30.8" lengthAdjust="spacingAndGlyphs">Nome</text></g>
<g id="a-cliente-indirizzo"><ellipse class="att" cx="2882.5" cy="2156" rx="55" ry="17.5"/><text class="t" x="2882.5" y="2161.5" textLength="69.3" lengthAdjust="spacingAndGlyphs">Indirizzo</text></g>
<g id="a-cliente-cap"><ellipse class="att" cx="2815" cy="2236" rx="31" ry="17.5"/><text class="t" x="2815" y="2241.5" textLength="23.1" lengthAdjust="spacingAndGlyphs">CAP</text></g>
<g id="a-cliente-citta"><ellipse class="att" cx="2857" cy="2275" rx="37" ry="17.5"/><text class="t" x="2857" y="2280.5" textLength="38.5" lengthAdjust="spacingAndGlyphs">Città</text></g>
<g id="a-cliente-via"><ellipse class="att" cx="2920" cy="2247" rx="31" ry="17.5"/><text class="t" x="2920" y="2252.5" textLength="23.1" lengthAdjust="spacingAndGlyphs">Via</text></g>
<g id="a-codice-acquisto"><ellipse class="att" cx="3671" cy="1946.5" rx="77" ry="17.5"/><text class="t" x="3671" y="1952" textLength="115.5" lengthAdjust="spacingAndGlyphs">Codice_Acquisto</text><line class="u" x1="3613.3" y1="1955" x2="3728.7" y2="1955"/></g>
<g id="a-data-acquisto"><ellipse class="att" cx="3668.4" cy="2003" rx="70" ry="17.5"/><text class="t" x="3668.4" y="2008.5" textLength="100.1" lengthAdjust="spacingAndGlyphs">Data_acquisto</text></g>
</svg>
